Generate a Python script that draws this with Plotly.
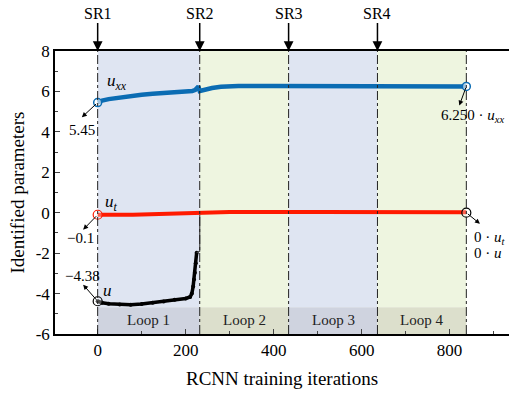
import plotly.graph_objects as go

# ---------------- data ----------------
uxx_iter = [0, 10, 25, 50, 75, 100, 125, 150, 175, 200, 215, 222, 226, 229, 232, 245, 260, 280, 300, 320, 400, 600, 838]
uxx_vals = [5.45, 5.55, 5.62, 5.70, 5.78, 5.84, 5.88, 5.92, 5.95, 5.97, 6.02, 6.08, 6.20, 6.25, 6.02, 6.10, 6.17, 6.23, 6.26, 6.27, 6.27, 6.27, 6.25]

ut_iter = [0, 20, 50, 80, 100, 130, 160, 200, 225, 232, 300, 500, 700, 838]
ut_vals = [-0.10, -0.11, -0.12, -0.10, -0.09, -0.07, -0.06, -0.03, -0.01, 0.03, 0.03, 0.03, 0.03, 0.02]

u_iter = [0, 10, 25, 50, 75, 100, 125, 150, 175, 200, 210, 214, 217, 219, 221, 223, 225, 232, 232, 838]
u_vals = [-4.38, -4.45, -4.50, -4.54, -4.55, -4.52, -4.46, -4.39, -4.31, -4.24, -4.17, -4.00, -3.65, -3.30, -2.97, -2.50, -1.98, -1.90, 0.0, 0.0]

loop_edges = [0, 232, 434, 636, 838]
loop_names = ["Loop 1", "Loop 2", "Loop 3", "Loop 4"]
sr_names = ["SR1", "SR2", "SR3", "SR4"]

y_ticks = [8, 6, 4, 2, 0, -2, -4, -6]
y_ticktext = ["8", "6", "4", "2", "0", "-2", "-4", "-6"]
x_ticks = [0, 200, 400, 600, 800]

FONT = "'Liberation Serif', 'Times New Roman', 'DejaVu Serif', serif"
BLUE = "#0b6cb3"
RED = "#ff1a00"

fig = go.Figure()

# background bands
band_top = ["#dfe5f2", "#eef5e0", "#dfe5f2", "#eef5e0"]
band_bot = ["#cfd3df", "#dcdfcc", "#cfd3df", "#dcdfcc"]
for i in range(4):
    fig.add_shape(type="rect", xref="x", yref="y", x0=loop_edges[i], x1=loop_edges[i + 1],
                  y0=-4.68, y1=8, fillcolor=band_top[i], line_width=0, layer="below")
    fig.add_shape(type="rect", xref="x", yref="y", x0=loop_edges[i], x1=loop_edges[i + 1],
                  y0=-6, y1=-4.68, fillcolor=band_bot[i], line_width=0, layer="below")
    fig.add_annotation(x=(loop_edges[i] + loop_edges[i + 1]) / 2, y=-5.33, text=loop_names[i],
                       showarrow=False, font=dict(family=FONT, size=15, color="#222"))

for xe in loop_edges:
    fig.add_shape(type="line", xref="x", yref="y", x0=xe, x1=xe, y0=-6, y1=8,
                  line=dict(color="#222", width=1, dash="dashdot"), layer="above")

# series
n_main = 17
fig.add_trace(go.Scatter(x=u_iter[:n_main], y=u_vals[:n_main], mode="lines+markers",
                         line=dict(color="black", width=3.5),
                         marker=dict(size=4, color="black"), showlegend=False))
fig.add_trace(go.Scatter(x=u_iter[n_main - 1:], y=u_vals[n_main - 1:], mode="lines",
                         line=dict(color="#444", width=1.2), showlegend=False))
fig.add_trace(go.Scatter(x=ut_iter, y=ut_vals, mode="lines",
                         line=dict(color=RED, width=4), showlegend=False))
fig.add_trace(go.Scatter(x=uxx_iter, y=uxx_vals, mode="lines",
                         line=dict(color=BLUE, width=4.5), showlegend=False))

# end markers
fig.add_trace(go.Scatter(x=[uxx_iter[0], uxx_iter[-1]], y=[uxx_vals[0], uxx_vals[-1]], mode="markers",
                         marker=dict(size=8, color="rgba(255,255,255,0.6)", line=dict(color=BLUE, width=1.5)),
                         showlegend=False))
fig.add_trace(go.Scatter(x=[ut_iter[0]], y=[ut_vals[0]], mode="markers",
                         marker=dict(size=9, color="rgba(255,255,255,0.3)", line=dict(color=RED, width=1.2)),
                         showlegend=False))
fig.add_trace(go.Scatter(x=[u_iter[0], u_iter[-1]], y=[u_vals[0], u_vals[-1]], mode="markers",
                         marker=dict(size=9, color="rgba(255,255,255,0.3)", line=dict(color="black", width=1.2)),
                         showlegend=False))

def txt(x, y, t, xanchor="center", size=15):
    fig.add_annotation(x=x, y=y, text=t, showarrow=False, xanchor=xanchor,
                       font=dict(family=FONT, size=size, color="black"))

def arrow(x0, y0, x1, y1):
    fig.add_annotation(x=x1, y=y1, ax=x0, ay=y0, axref="x", ayref="y", text="",
                       showarrow=True, arrowhead=2, arrowsize=1, arrowwidth=1, arrowcolor="black")

# labels and arrows
txt(44, 6.45, "<i>u</i><sub><i>xx</i></sub>", size=17)
txt(-35, 4.1, "5.45")
arrow(0, uxx_vals[0], -36, 4.72)
txt(851, 4.8, "6.250 · <i>u</i><sub><i>xx</i></sub>")
arrow(838, uxx_vals[-1], 822, 5.3)

txt(32, 0.5, "<i>u</i><sub><i>t</i></sub>", size=17)
txt(-38, -1.24, "−0.1")
arrow(0, ut_vals[0], -33, -0.84)
txt(852, -1.24, "0 · <i>u</i><sub><i>t</i></sub>", xanchor="left")
txt(852, -1.98, "0 · <i>u</i>", xanchor="left")
arrow(838, 0, 869, -0.55)

txt(22, -3.86, "<i>u</i>", size=17)
txt(-35, -3.12, "−4.38")
arrow(0, u_vals[0], -33, -3.56)

# SR arrows
for i in range(4):
    fig.add_annotation(x=loop_edges[i], y=8, xref="x", yref="y", text=sr_names[i],
                       showarrow=True, ax=0, ay=-38, arrowhead=2, arrowsize=1.3, arrowwidth=1.5,
                       arrowcolor="black", font=dict(family=FONT, size=16, color="black"))

fig.update_layout(
    width=509, height=397,
    margin=dict(l=55, r=0, t=51, b=63),
    paper_bgcolor="white", plot_bgcolor="white",
    font=dict(family=FONT, size=16, color="black"),
    xaxis=dict(range=[-97, 935], tickvals=x_ticks, ticks="inside", ticklen=5,
               showline=True, linecolor="black", linewidth=1.5, mirror=True,
               showgrid=False, zeroline=False,
               minor=dict(dtick=100, tick0=0, ticks="inside", ticklen=3),
               title=dict(text="RCNN training iterations", font=dict(family=FONT, size=19), standoff=13),
               tickfont=dict(family=FONT, size=17)),
    yaxis=dict(range=[-6, 8], tickvals=y_ticks, ticktext=y_ticktext, ticks="inside", ticklen=5,
               showline=True, linecolor="black", linewidth=1.5,
               showgrid=False, zeroline=False,
               minor=dict(dtick=1, tick0=0, ticks="inside", ticklen=3),
               title=dict(text="Identified parameters", font=dict(family=FONT, size=19), standoff=6),
               tickfont=dict(family=FONT, size=17)),
)

# remove the default 8px page margin so the figure fills the window exactly
fig.write_html("out.html", config={"displayModeBar": False},
               post_script="document.body.style.margin='0';document.body.style.overflow='hidden';")
